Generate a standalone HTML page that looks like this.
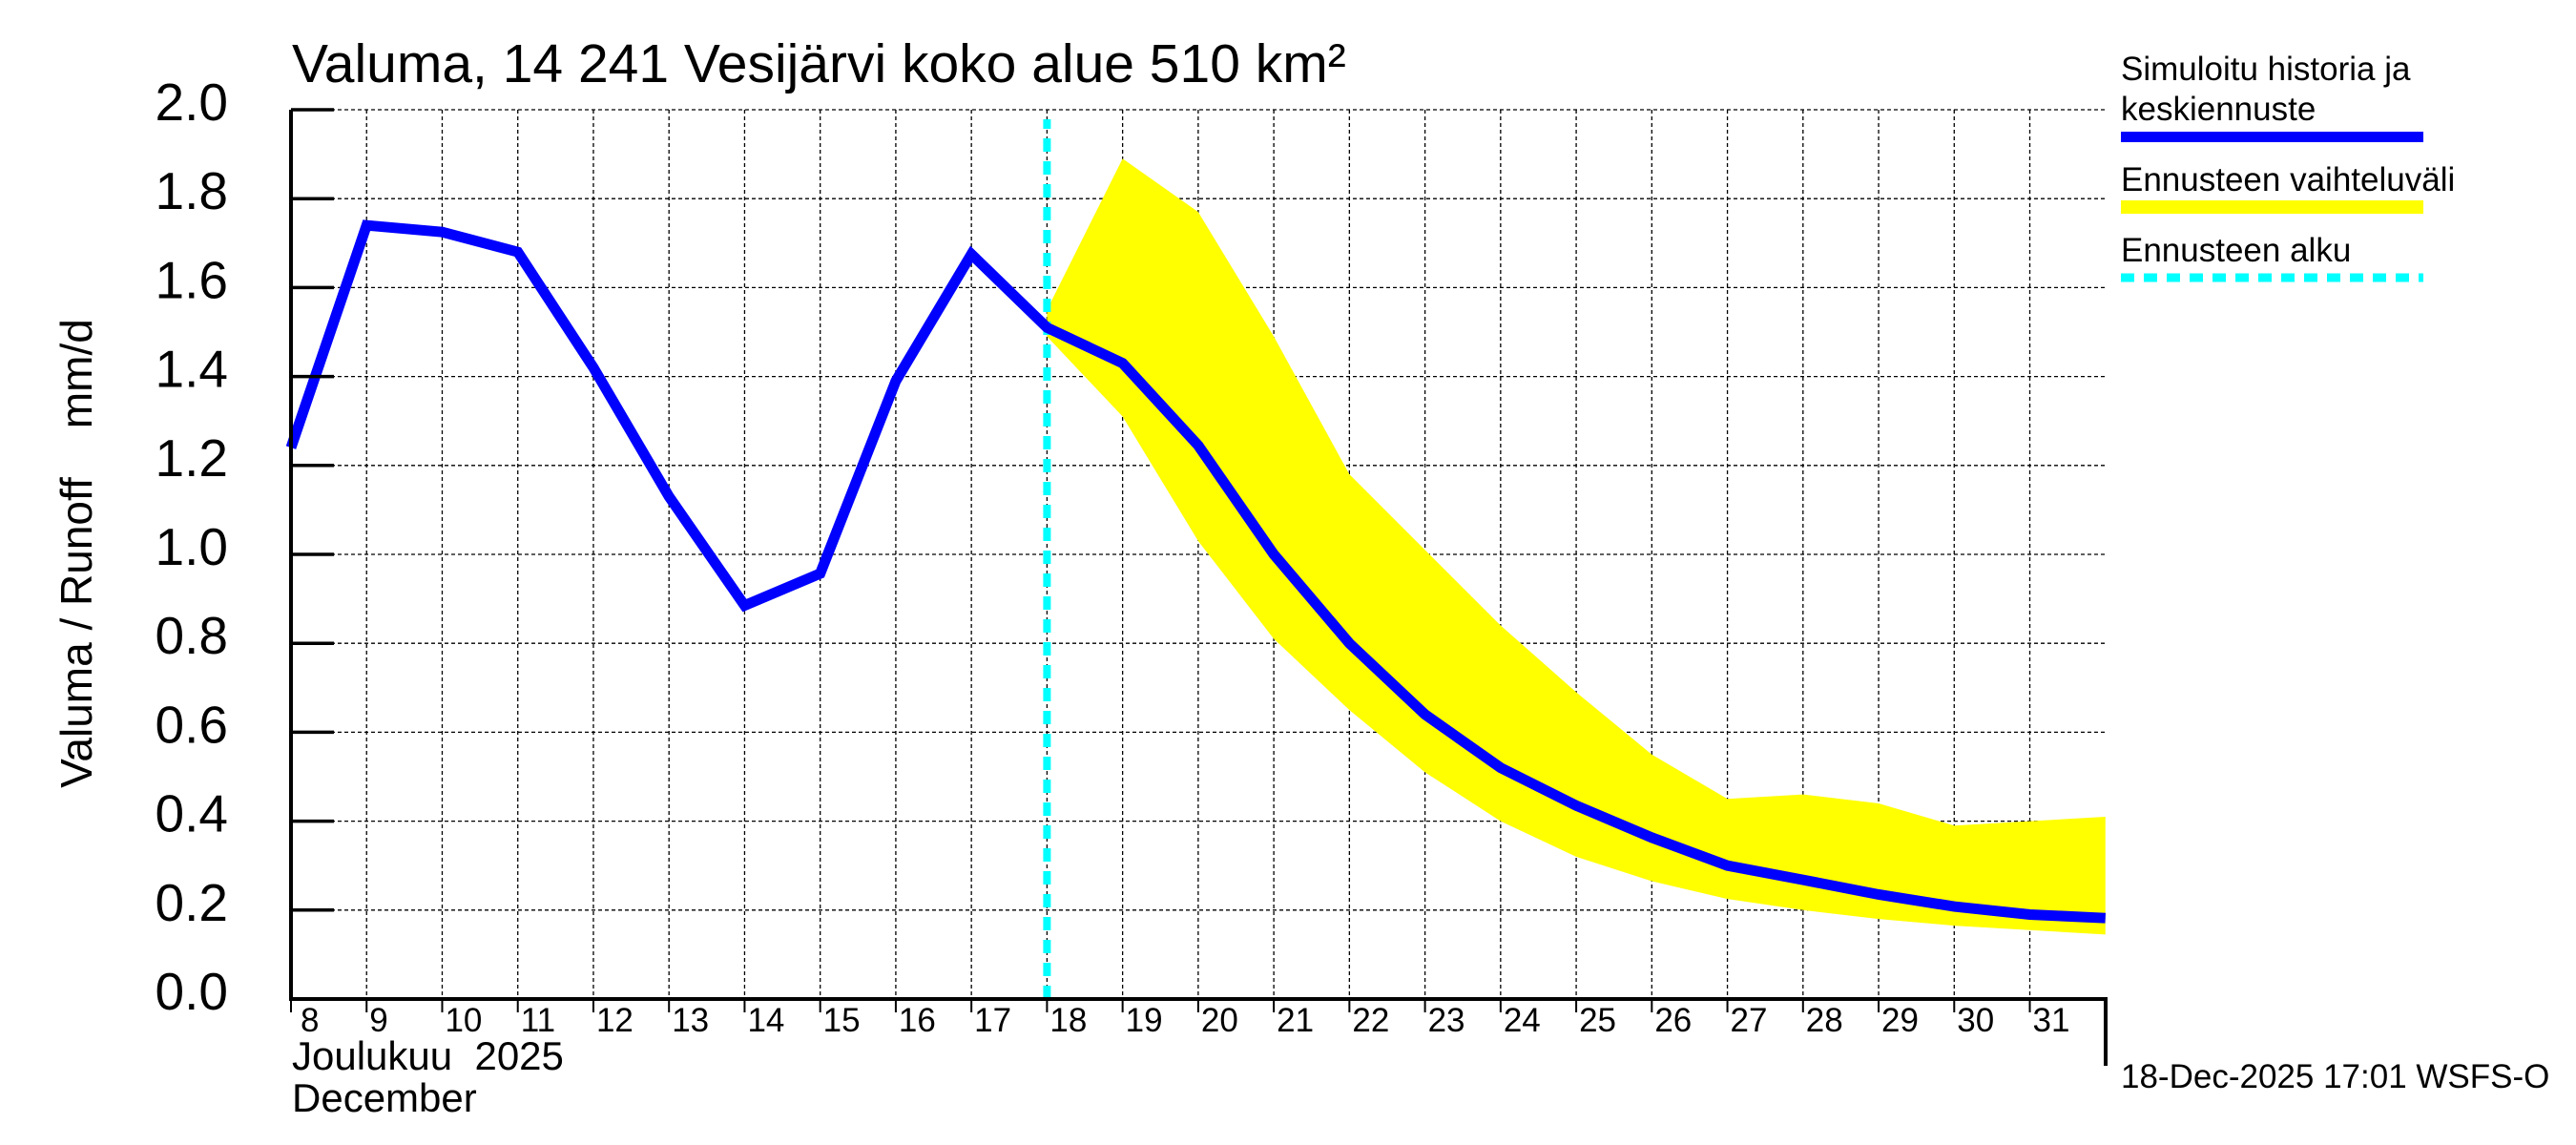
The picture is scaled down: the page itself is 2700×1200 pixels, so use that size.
<!DOCTYPE html>
<html><head><meta charset="utf-8"><style>
html,body{margin:0;padding:0;background:#fff;}
svg{display:block;font-family:"Liberation Sans",sans-serif;}
text{white-space:pre;}
</style></head><body>
<svg id="chart" width="2700" height="1200" viewBox="0 0 2700 1200" xmlns="http://www.w3.org/2000/svg">
<g id="grid"></g>
<g id="band"></g>
<g id="lines"></g>
<g id="axes"></g>
<text x="306" y="86" font-size="57">Valuma, 14 241 Vesijärvi koko alue 510 km²</text>
<text transform="translate(96,580) rotate(-90)" text-anchor="middle" font-size="46" xml:space="preserve">Valuma / Runoff    mm/d</text>
<text x="306" y="1121" font-size="42" xml:space="preserve">Joulukuu  2025</text>
<text x="306" y="1165" font-size="42">December</text>
<g>
<text x="2223" y="84" font-size="35">Simuloitu historia ja</text>
<text x="2223" y="126" font-size="35">keskiennuste</text>
<rect x="2223" y="138" width="317" height="11" fill="#0000ff"/>
<text x="2223" y="200" font-size="35">Ennusteen vaihteluväli</text>
<rect x="2223" y="210" width="317" height="14" fill="#ffff00"/>
<text x="2223" y="274" font-size="35">Ennusteen alku</text>
<line x1="2223" y1="291" x2="2540" y2="291" stroke="#00ffff" stroke-width="9" stroke-dasharray="14,10"/>
</g>
<text x="2223" y="1140" font-size="35">18-Dec-2025 17:01 WSFS-O</text>
</svg>
<script>
const dayLabels = ["8","9","10","11","12","13","14","15","16","17","18","19","20","21","22","23","24","25","26","27","28","29","30","31"];
const yTicks = [0.0,0.2,0.4,0.6,0.8,1.0,1.2,1.4,1.6,1.8,2.0];
const simDays = [0,1,2,3,4,5,6,7,8,9,10,11,12,13,14,15,16,17,18,19,20,21,22,23,24];
const simValues = [1.24,1.74,1.725,1.68,1.42,1.13,0.885,0.957,1.39,1.675,1.51,1.43,1.245,1.0,0.80,0.64,0.52,0.435,0.363,0.30,0.268,0.235,0.208,0.19,0.182];
const bandDays = [10,11,12,13,14,15,16,17,18,19,20,21,22,23,24];
const bandUpper = [1.55,1.89,1.77,1.49,1.18,1.01,0.84,0.69,0.55,0.45,0.46,0.44,0.39,0.40,0.41];
const bandLower = [1.49,1.31,1.03,0.81,0.65,0.51,0.40,0.32,0.265,0.225,0.20,0.18,0.165,0.155,0.145];
const forecastStartDay = 10;

const X0=305, DX=79.24, Y0=1047, YS=466, XR=2207;
const xs = d => X0 + d*DX;
const ys = v => Y0 - v*YS;
const NS="http://www.w3.org/2000/svg";
function mk(tag, parent, attrs){const e=document.createElementNS(NS,tag);for(const k in attrs)e.setAttribute(k,attrs[k]);parent.appendChild(e);return e;}
const grid=document.getElementById('grid'), band=document.getElementById('band'), lines=document.getElementById('lines'), axes=document.getElementById('axes');

yTicks.forEach((v,i)=>{
  if(v>0){const g=mk('line',grid,{x1:X0,x2:XR,y1:ys(v),y2:ys(v),stroke:'#000','stroke-width':1.3,'stroke-dasharray':'4,3'});
  
  }
  const t=mk('line',axes,{x1:X0,x2:X0+45,y1:ys(v),y2:ys(v),stroke:'#000','stroke-width':3.5});
  
  
  const l=mk('text',axes,{x:239,y:ys(v)+11,'text-anchor':'end','font-size':55});
  l.textContent=v.toFixed(1);
  
  
});
dayLabels.forEach((s,i)=>{
  if(i>0){const g=mk('line',grid,{x1:xs(i),x2:xs(i),y1:ys(2),y2:Y0,stroke:'#000','stroke-width':1.3,'stroke-dasharray':'4,3'});
  
  }
  const t=mk('line',axes,{x1:xs(i),x2:xs(i),y1:Y0,y2:Y0+14,stroke:'#000','stroke-width':2});
  
  
  const l=mk('text',axes,{x:xs(i)+(i===0?10:3),y:1081,'font-size':35});
  l.textContent=s;
  
  
});
let pts=bandDays.map((d,i)=>xs(d)+','+ys(bandUpper[i]));
for(let i=bandDays.length-1;i>=0;i--)pts.push(xs(bandDays[i])+','+ys(bandLower[i]));
const poly=mk('polygon',band,{points:pts.join(' '),fill:'#ffff00'});



const fl=mk('line',lines,{x1:xs(forecastStartDay),x2:xs(forecastStartDay),y1:Y0,y2:125,stroke:'#00ffff','stroke-width':8,'stroke-dasharray':'14,10'});


const sl=mk('polyline',lines,{points:simDays.map((d,i)=>xs(d)+','+ys(simValues[i])).join(' '),fill:'none',stroke:'#0000ff','stroke-width':11,'stroke-linejoin':'miter'});



const ax=mk('path',axes,{d:`M${X0},${ys(2)} L${X0},${Y0} L${XR},${Y0} L${XR},1117`,fill:'none',stroke:'#000','stroke-width':4});


</script>
</body></html>
